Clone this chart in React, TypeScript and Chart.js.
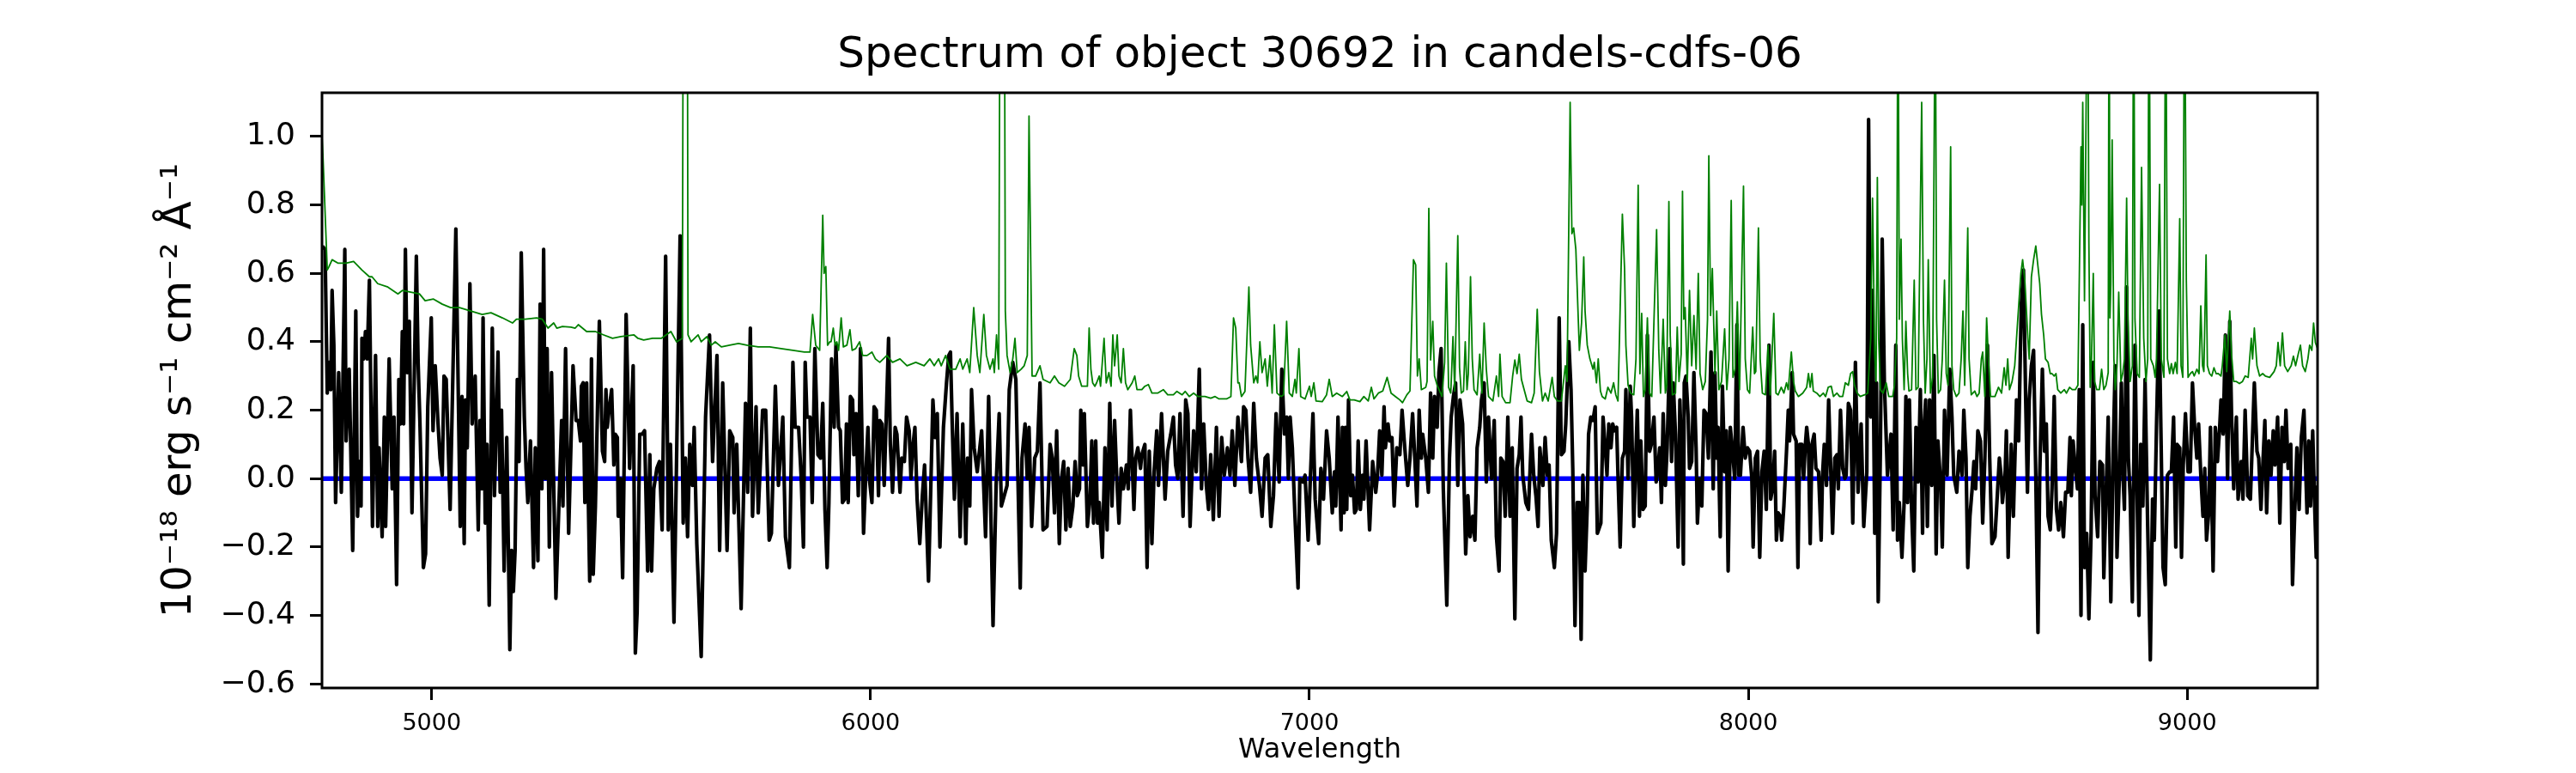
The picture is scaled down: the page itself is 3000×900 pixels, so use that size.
import React, { useEffect, useRef } from "react";
import { Chart, registerables } from "chart.js";

Chart.register(...registerables);

// ---- text ----
const titleText = "Spectrum of object 30692 in candels-cdfs-06";
const xLabel = "Wavelength";
const yLabel = "10\u207B\u00B9\u2078 erg s\u207B\u00B9 cm\u207B\u00B2 \u00C5\u207B\u00B9";

// ---- axes ----
const xRange = [4750, 9297];
const yRange = [-0.612, 1.128];
const xTicks = [5000, 6000, 7000, 8000, 9000];
const yTicks = [-0.6, -0.4, -0.2, 0.0, 0.2, 0.4, 0.6, 0.8, 1.0];

// ---- black: flux [wavelength, flux] ----
const fluxSeries: [number, number][] = [
  [4751, 0.68], [4757, 0.67], [4762, 0.25], [4766, 0.34], [4770, 0.26], [4773, 0.55], [4777, 0.39], [4781, -0.07],
  [4788, 0.31], [4794, -0.04], [4802, 0.67], [4805, 0.11], [4812, 0.32], [4820, -0.21], [4827, 0.49], [4831, -0.11],
  [4835, 0.05], [4839, -0.08], [4841, 0.41], [4845, 0.35], [4849, 0.43], [4853, 0.35], [4858, 0.58], [4865, -0.14],
  [4872, 0.36], [4877, -0.14], [4880, 0.09], [4887, -0.17], [4892, 0.18], [4895, -0.14], [4903, 0.35], [4910, -0.03],
  [4914, 0.18], [4920, -0.31], [4925, 0.29], [4929, 0.16], [4933, 0.43], [4936, 0.16], [4940, 0.67], [4944, 0.31],
  [4949, 0.46], [4955, -0.10], [4965, 0.65], [4969, 0.34], [4973, 0.17], [4981, -0.26], [4986, -0.22], [4991, 0.21],
  [4999, 0.47], [5003, 0.14], [5008, 0.33], [5014, 0.17], [5019, 0.06], [5024, 0.01], [5028, 0.30], [5033, 0.29],
  [5042, -0.09], [5055, 0.73], [5065, -0.14], [5069, 0.24], [5074, -0.19], [5077, 0.23], [5081, 0.09], [5087, 0.57],
  [5092, 0.16], [5099, 0.30], [5106, -0.15], [5110, 0.17], [5114, -0.03], [5117, 0.47], [5122, -0.13], [5126, 0.10],
  [5131, -0.37], [5138, 0.44], [5143, -0.05], [5151, 0.37], [5156, -0.04], [5159, 0.20], [5165, -0.27], [5171, 0.12],
  [5178, -0.50], [5182, -0.21], [5186, -0.33], [5190, -0.21], [5195, 0.29], [5199, 0.05], [5204, 0.66], [5211, 0.18],
  [5215, 0.03], [5219, -0.07], [5225, 0.11], [5232, -0.26], [5236, 0.09], [5242, -0.24], [5247, 0.51], [5251, -0.03],
  [5255, 0.67], [5259, 0.00], [5263, 0.38], [5268, -0.20], [5273, 0.31], [5283, -0.35], [5296, 0.17], [5299, -0.08],
  [5305, 0.38], [5312, -0.16], [5322, 0.33], [5329, 0.17],
  [5334, 0.17], [5339, 0.11], [5341, 0.27], [5345, 0.28], [5349, -0.07], [5353, 0.28], [5356, 0.00], [5360, -0.30],
  [5364, 0.35], [5368, -0.28], [5373, -0.08], [5382, 0.46], [5389, 0.08], [5394, 0.05], [5397, 0.26], [5400, 0.15],
  [5405, 0.21], [5410, 0.26], [5415, 0.04], [5418, 0.13], [5423, 0.12], [5425, -0.11], [5430, 0.00], [5435, -0.29],
  [5443, 0.48], [5451, 0.03], [5459, 0.33], [5464, -0.51], [5468, -0.39], [5474, 0.13], [5480, 0.13], [5485, 0.14],
  [5492, -0.27], [5497, 0.07], [5501, -0.27], [5506, -0.03], [5513, 0.03], [5519, 0.05], [5525, -0.15], [5533, 0.65],
  [5539, -0.15], [5544, 0.10], [5552, -0.42], [5566, 0.71], [5573, -0.13], [5578, 0.06], [5583, -0.17], [5588, 0.10],
  [5594, -0.02], [5598, 0.15], [5604, -0.19], [5614, -0.52], [5624, 0.18], [5633, 0.42], [5640, 0.05], [5650, 0.36],
  [5656, -0.21], [5663, 0.28], [5673, -0.21], [5679, 0.14], [5686, 0.12], [5689, -0.10], [5695, 0.10], [5705, -0.38],
  [5715, 0.22], [5720, -0.04], [5726, 0.44], [5731, -0.11], [5739, 0.21], [5744, -0.10], [5754, 0.20], [5761, 0.20],
  [5769, -0.18], [5774, -0.16], [5783, 0.27], [5790, -0.02], [5800, 0.18], [5806, -0.17], [5815, -0.26], [5823, 0.34],
  [5828, 0.15], [5836, 0.15], [5842, 0.00], [5847, -0.20], [5851, 0.34], [5855, 0.18], [5862, 0.18], [5867, -0.07],
  [5873, 0.38], [5880, 0.07], [5886, 0.06], [5891, 0.22], [5896, -0.09], [5901, -0.26], [5905, -0.07], [5911, 0.35],
  [5917, 0.15], [5921, 0.39], [5927, 0.15], [5931, 0.14], [5936, -0.07], [5941, -0.06], [5945, 0.16], [5949, -0.07],
  [5954, 0.24], [5959, 0.23], [5962, 0.07], [5967, 0.19], [5972, -0.05], [5977, 0.38], [5984, -0.16], [5989, 0.01],
  [5994, 0.15], [5998, -0.01], [6003, -0.07], [6008, 0.21], [6013, 0.20], [6018, -0.05], [6021, 0.17], [6026, 0.16],
  [6031, -0.02], [6041, 0.41], [6045, 0.10], [6050, -0.04], [6056, 0.15], [6060, 0.13], [6067, -0.04], [6071, 0.06],
  [6077, 0.05], [6082, 0.18], [6088, 0.14], [6092, 0.00], [6096, 0.09], [6101, 0.15], [6106, -0.06], [6112, -0.19],
  [6118, -0.05], [6123, 0.04], [6132, -0.30], [6142, 0.23], [6147, 0.12], [6152, 0.19], [6158, -0.20], [6166, 0.15],
  [6173, 0.28], [6178, 0.36], [6182, 0.37], [6186, 0.16], [6191, -0.06], [6197, 0.19], [6204, -0.17], [6210, 0.16],
  [6217, -0.19], [6221, 0.06], [6226, -0.08], [6230, 0.26], [6236, 0.09], [6243, 0.02], [6253, 0.14], [6262, -0.17],
  [6269, 0.24], [6279, -0.43], [6286, -0.02], [6293, 0.19], [6298, -0.08], [6311, -0.02], [6316, 0.26], [6324, 0.34],
  [6331, 0.29], [6341, -0.32], [6345, 0.06], [6352, 0.16], [6357, 0.00], [6361, 0.15], [6367, -0.14], [6374, 0.06],
  [6380, 0.08], [6386, 0.28], [6393, -0.15], [6402, -0.14], [6409, 0.10], [6414, 0.06], [6419, -0.10], [6424, 0.14],
  [6430, -0.19], [6435, 0.00], [6440, 0.05], [6445, -0.15], [6450, 0.03], [6455, -0.14], [6461, -0.08], [6466, 0.05],
  [6471, -0.05], [6476, -0.03], [6479, 0.20], [6484, 0.04], [6487, 0.19], [6494, -0.14],
  [6500, -0.06], [6504, 0.11], [6508, -0.13], [6513, 0.11], [6517, -0.13], [6521, -0.07], [6528, -0.23], [6534, 0.09],
  [6539, -0.15], [6545, 0.22], [6550, -0.08], [6556, 0.17], [6561, 0.00], [6566, -0.13], [6571, 0.03], [6576, -0.03],
  [6583, 0.04], [6587, -0.03], [6592, 0.20], [6600, -0.09], [6604, 0.06], [6609, 0.09], [6615, 0.03], [6618, 0.07],
  [6625, 0.10], [6630, -0.26], [6635, 0.08], [6641, -0.19], [6646, 0.02], [6652, 0.14], [6656, -0.02], [6663, 0.19],
  [6671, -0.06], [6677, 0.08], [6684, 0.13], [6690, 0.18], [6695, 0.04], [6700, 0.00], [6705, 0.19], [6712, -0.11],
  [6718, 0.23], [6723, 0.19], [6728, -0.14], [6736, 0.14], [6742, 0.02], [6749, 0.32], [6754, -0.03], [6759, 0.16],
  [6765, -0.02], [6770, -0.09], [6775, 0.07], [6781, -0.12], [6788, 0.15], [6794, -0.11], [6800, 0.12], [6806, 0.01],
  [6813, 0.09], [6819, 0.01], [6824, 0.14], [6830, -0.02], [6837, 0.18], [6845, 0.05], [6850, 0.21], [6855, 0.20],
  [6860, 0.06], [6866, -0.04], [6873, 0.22], [6879, 0.06], [6886, -0.02], [6892, -0.11], [6899, 0.06], [6905, 0.07],
  [6912, -0.14], [6918, -0.05], [6924, 0.19], [6931, -0.01], [6937, 0.32], [6943, 0.13], [6948, 0.18], [6952, 0.00],
  [6956, 0.18], [6961, 0.09], [6967, -0.11], [6974, -0.32], [6978, 0.00], [6985, -0.01], [6990, 0.01], [6997, -0.18],
  [7002, 0.00], [7008, 0.19], [7013, -0.06], [7021, -0.19], [7026, 0.03], [7032, -0.06], [7039, 0.14], [7045, 0.06],
  [7052, -0.10], [7057, 0.02], [7060, -0.08], [7065, 0.18], [7072, -0.15], [7075, 0.15],
  [7079, -0.10], [7082, 0.15], [7085, -0.09], [7089, 0.23], [7094, -0.05], [7098, 0.01], [7103, -0.10], [7107, -0.09],
  [7111, 0.11], [7116, -0.09], [7121, 0.01], [7124, -0.06], [7129, 0.11], [7137, -0.15], [7144, 0.05], [7151, -0.04],
  [7155, 0.01], [7160, 0.14], [7165, 0.01], [7170, 0.21], [7173, 0.09], [7179, 0.16], [7183, 0.11], [7188, 0.12],
  [7193, -0.08], [7199, 0.09], [7206, 0.07], [7211, 0.20], [7216, 0.11], [7224, -0.02], [7229, 0.06], [7235, 0.19],
  [7240, 0.06], [7245, -0.08], [7250, 0.20], [7255, 0.06], [7258, 0.13], [7265, 0.06], [7271, -0.04], [7276, 0.25],
  [7281, 0.06], [7285, 0.24], [7291, 0.15], [7295, 0.31], [7300, 0.38], [7305, -0.03], [7313, -0.37], [7319, 0.06],
  [7323, 0.18], [7328, 0.24], [7333, 0.28], [7338, -0.02], [7343, 0.23], [7349, 0.16], [7356, -0.22], [7361, -0.05],
  [7366, -0.17], [7372, -0.11], [7377, -0.18], [7382, 0.09], [7388, 0.15], [7392, 0.23], [7398, 0.28], [7403, -0.01],
  [7408, 0.18], [7415, 0.00], [7421, 0.17], [7426, -0.17], [7432, -0.27], [7436, 0.06], [7441, 0.05], [7446, -0.11],
  [7452, 0.18], [7457, -0.11], [7462, 0.09], [7468, -0.41], [7473, 0.03], [7478, 0.07], [7482, 0.18], [7486, 0.01],
  [7493, -0.07], [7499, -0.09], [7506, 0.13], [7511, 0.01], [7516, -0.05], [7521, -0.14], [7525, 0.09], [7532, -0.02],
  [7537, 0.12], [7542, 0.01], [7546, 0.04], [7551, -0.18], [7558, -0.26], [7563, -0.16], [7569, 0.47], [7574, 0.07],
  [7580, 0.08], [7584, 0.16], [7591, 0.40], [7596, 0.26], [7600, 0.03], [7605, -0.43], [7610, -0.07], [7615, -0.07],
  [7619, -0.47], [7623, 0.01], [7628, -0.27], [7633, -0.08], [7636, 0.13], [7641, 0.18], [7646, 0.17], [7651, 0.21],
  [7656, -0.16],
  [7664, -0.13], [7669, 0.18], [7674, 0.09], [7678, 0.01], [7682, 0.16], [7687, 0.09], [7691, 0.16], [7695, 0.14],
  [7700, 0.15], [7703, 0.01], [7708, -0.20], [7713, 0.06], [7718, 0.08], [7721, 0.26], [7726, 0.00], [7731, 0.27],
  [7734, 0.18], [7739, -0.14], [7744, 0.08], [7747, 0.20], [7752, -0.11], [7755, 0.11], [7760, -0.09], [7765, -0.08],
  [7770, 0.42], [7775, 0.08], [7779, 0.10], [7785, 0.18], [7790, -0.01], [7794, 0.03], [7798, 0.09], [7802, -0.07],
  [7806, 0.19], [7811, -0.02], [7815, 0.09], [7821, 0.38], [7825, 0.05], [7829, 0.28], [7834, 0.13], [7840, -0.20],
  [7844, 0.23], [7849, 0.01], [7852, -0.25], [7854, 0.28], [7858, 0.30], [7863, 0.18], [7866, 0.03], [7871, 0.05],
  [7876, 0.31], [7881, 0.09], [7884, -0.13], [7889, 0.00], [7894, -0.08], [7899, 0.20], [7904, 0.19], [7909, 0.06],
  [7915, 0.37], [7920, -0.03], [7924, 0.31], [7928, 0.06], [7931, 0.15], [7936, -0.17], [7941, 0.27], [7946, 0.02],
  [7950, 0.14], [7954, -0.27], [7959, 0.15], [7964, 0.08], [7969, 0.00], [7974, 0.45], [7978, 0.01], [7982, 0.01],
  [7988, 0.15], [7993, 0.06], [7998, 0.09], [8003, 0.08], [8008, 0.00], [8011, -0.20], [8016, 0.06], [8021, 0.08],
  [8026, -0.23], [8031, 0.02], [8036, 0.08], [8041, -0.09], [8047, 0.39], [8051, -0.06], [8055, -0.03], [8060, 0.08],
  [8064, -0.18], [8068, -0.10], [8073, -0.11], [8076, -0.18], [8081, -0.08], [8087, 0.08], [8091, 0.20], [8094, 0.11],
  [8100, 0.31], [8103, 0.13], [8109, 0.11], [8113, -0.26], [8117, 0.10], [8122, 0.10], [8126, 0.00], [8130, 0.10],
  [8133, 0.15], [8137, 0.10], [8141, -0.19], [8145, 0.10], [8150, 0.13], [8154, 0.03], [8160, 0.02], [8166, -0.18],
  [8169, 0.01], [8173, 0.10], [8178, -0.02], [8183, 0.23], [8187, 0.06], [8192, -0.16], [8197, 0.06], [8202, 0.07],
  [8205, -0.03], [8210, 0.20], [8215, 0.03], [8220, 0.00], [8223, 0.01], [8228, 0.22], [8233, 0.20], [8238, -0.13],
  [8244, 0.34], [8250, -0.04], [8257, 0.16], [8263, -0.14], [8270, 0.02], [8274, 1.05], [8279, 0.18], [8283, 0.55],
  [8288, -0.16], [8292, 0.28], [8296, -0.36], [8301, 0.09], [8305, 0.70], [8310, 0.28], [8317, 0.01], [8325, 0.13],
  [8330, -0.15], [8336, 0.39], [8340, -0.18], [8344, -0.07], [8350, -0.23], [8355, -0.07], [8359, 0.24], [8363, -0.07],
  [8367, 0.23], [8372, -0.09], [8377, -0.27], [8382, 0.15], [8387, -0.01], [8392, 0.26], [8397, -0.16], [8400, 0.14],
  [8404, 0.23], [8408, -0.14], [8413, 0.23], [8418, -0.02], [8423, 0.36], [8428, -0.22], [8432, 0.11], [8438, -0.01],
  [8442, -0.20], [8447, 0.20], [8453, 0.01], [8459, 0.32], [8464, 0.18], [8468, 0.01], [8475, -0.04], [8480, 0.08],
  [8487, 0.01], [8491, 0.20], [8496, 0.06], [8500, -0.26], [8505, -0.11], [8510, -0.03], [8514, 0.05], [8518, -0.03],
  [8523, 0.14], [8529, 0.11], [8534, -0.13], [8539, 0.06], [8545, 0.39], [8550, 0.06], [8555, -0.19], [8562, -0.17],
  [8566, -0.08], [8572, 0.06], [8576, 0.01], [8579, -0.07], [8585, 0.01], [8588, 0.14], [8592, -0.23], [8599, 0.10],
  [8604, -0.11], [8611, 0.23], [8616, 0.11], [8622, 0.51], [8627, 0.61], [8632, 0.23], [8636, -0.04], [8640, 0.23],
  [8645, 0.33], [8650, 0.375], [8655, 0.01], [8660, -0.45], [8664, 0.01], [8670, 0.32], [8675, 0.08], [8679, 0.16],
  [8683, -0.11], [8688, -0.15], [8692, -0.03], [8697, 0.24], [8702, -0.09], [8707, -0.15], [8712, -0.07], [8718, -0.17],
  [8723, -0.04], [8728, -0.04], [8733, 0.12], [8736, -0.05], [8740, 0.11], [8745, 0.03], [8750, -0.03], [8754, 0.26],
  [8758, -0.40], [8762, 0.45], [8766, -0.26], [8771, -0.16], [8776, -0.41], [8781, -0.16], [8786, 0.34], [8790, -0.05],
  [8796, -0.17], [8801, 0.05], [8807, 0.04], [8810, -0.29], [8815, -0.06], [8820, 0.18],
  [8826, -0.36], [8831, 0.07], [8836, 0.33], [8840, -0.23], [8846, 0.03], [8850, 0.28], [8854, 0.00], [8857, -0.09],
  [8862, 0.56], [8866, 0.06], [8870, -0.05], [8875, -0.36], [8881, 0.39], [8886, -0.05], [8890, -0.40], [8894, 0.10],
  [8899, -0.08], [8904, 0.29], [8910, -0.14], [8916, -0.53], [8921, -0.06], [8925, -0.18], [8930, 0.15], [8936, 0.49],
  [8940, 0.15], [8945, -0.26], [8950, -0.31], [8955, 0.01], [8960, 0.02], [8964, 0.02], [8969, 0.18], [8974, -0.20],
  [8977, 0.10], [8983, 0.09], [8987, -0.23], [8991, 0.04], [8996, 0.19], [9002, 0.02], [9007, 0.02], [9012, 0.28],
  [9017, 0.15], [9022, 0.06], [9026, 0.16], [9031, 0.01], [9036, -0.11], [9040, 0.03], [9044, -0.18], [9049, -0.10],
  [9053, 0.15], [9059, -0.27], [9064, 0.15], [9069, 0.05], [9074, 0.15], [9077, 0.23], [9082, 0.13], [9087, 0.42],
  [9092, 0.00], [9097, 0.46], [9101, 0.19], [9106, -0.03], [9112, 0.18], [9116, -0.06], [9123, 0.05], [9127, -0.06],
  [9132, 0.20], [9138, -0.05], [9144, -0.06], [9149, 0.13], [9153, 0.28], [9159, 0.08], [9163, 0.06], [9168, -0.09],
  [9173, 0.06], [9177, 0.17], [9181, -0.10], [9186, 0.11], [9191, 0.01], [9196, 0.14], [9200, 0.04], [9206, 0.18],
  [9211, -0.13], [9216, 0.15], [9221, 0.05], [9225, 0.20], [9230, 0.03], [9236, 0.10], [9240, -0.31], [9245, -0.10],
  [9250, 0.09], [9255, -0.09], [9260, 0.12], [9266, 0.20], [9273, -0.10], [9277, 0.11], [9281, -0.08], [9286, 0.14],
  [9290, -0.06], [9294, -0.23], [9297, -0.02],
];

// ---- green: noise / sky [wavelength, value] ----
const skySeries: [number, number][] = [
  [4750, 1.00], [4752, 0.95], [4762, 0.61], [4766, 0.62], [4773, 0.64], [4786, 0.63], [4805, 0.63], [4822, 0.635],
  [4841, 0.61], [4858, 0.59], [4864, 0.59], [4877, 0.57], [4900, 0.56], [4923, 0.54], [4933, 0.55], [4952, 0.545],
  [4972, 0.54], [4985, 0.52], [5004, 0.525], [5024, 0.51], [5043, 0.50], [5063, 0.50], [5089, 0.49], [5115, 0.48],
  [5135, 0.485], [5161, 0.47], [5184, 0.455], [5193, 0.466], [5213, 0.466], [5239, 0.47], [5252, 0.466], [5265, 0.44],
  [5278, 0.455], [5285, 0.44], [5298, 0.445], [5317, 0.443],
  [5327, 0.44], [5334, 0.45], [5353, 0.43], [5373, 0.43], [5392, 0.42], [5412, 0.41], [5431, 0.415], [5461, 0.42],
  [5470, 0.41], [5483, 0.405], [5503, 0.41], [5523, 0.41], [5545, 0.43], [5558, 0.40], [5571, 0.41], [5575, 2.5],
  [5581, 2.5], [5584, 0.42], [5591, 0.40], [5607, 0.42], [5614, 0.40], [5627, 0.415], [5637, 0.39], [5646, 0.40],
  [5660, 0.385], [5679, 0.39], [5699, 0.395], [5718, 0.39], [5744, 0.385], [5770, 0.385], [5796, 0.38], [5823, 0.375],
  [5849, 0.37], [5862, 0.37], [5868, 0.48], [5875, 0.39], [5884, 0.375], [5891, 0.77], [5894, 0.60], [5898, 0.62],
  [5902, 0.39], [5907, 0.40],
  [5910, 0.40], [5915, 0.44], [5919, 0.39], [5923, 0.40], [5927, 0.375], [5933, 0.47], [5938, 0.385], [5946, 0.39],
  [5953, 0.435], [5958, 0.375], [5966, 0.38], [5975, 0.40], [5982, 0.36], [5992, 0.36], [6003, 0.37], [6011, 0.35],
  [6021, 0.34], [6037, 0.36], [6050, 0.34], [6067, 0.35], [6083, 0.33], [6103, 0.34], [6122, 0.33], [6135, 0.35],
  [6145, 0.33], [6155, 0.35], [6161, 0.33], [6171, 0.36], [6181, 0.32], [6194, 0.32], [6204, 0.35], [6210, 0.32],
  [6220, 0.35], [6226, 0.31], [6235, 0.50], [6243, 0.36], [6249, 0.31], [6258, 0.48], [6264, 0.36], [6272, 0.32],
  [6279, 0.35], [6282, 0.31], [6287, 0.42], [6292, 0.32], [6297, 2.5], [6303, 2.5], [6307, 0.49], [6311, 0.36],
  [6318, 0.31], [6324, 0.35], [6329, 0.41], [6334, 0.31], [6343, 0.32], [6350, 0.33], [6357, 0.36], [6361, 1.06],
  [6368, 0.30], [6376, 0.30], [6386, 0.33], [6393, 0.29], [6409, 0.28], [6419, 0.30], [6429, 0.28], [6442, 0.27],
  [6455, 0.29], [6464, 0.38], [6470, 0.36], [6474, 0.30], [6481, 0.27], [6494, 0.27],
  [6498, 0.44], [6502, 0.32], [6506, 0.28], [6511, 0.27], [6515, 0.28], [6521, 0.30], [6524, 0.27], [6532, 0.41],
  [6537, 0.28], [6543, 0.31], [6548, 0.27], [6552, 0.42], [6556, 0.33], [6562, 0.42], [6566, 0.30], [6571, 0.28],
  [6576, 0.38], [6581, 0.28], [6586, 0.26], [6596, 0.28], [6602, 0.30], [6607, 0.26], [6618, 0.26], [6625, 0.27],
  [6633, 0.275], [6641, 0.25], [6654, 0.25], [6667, 0.26], [6677, 0.245], [6690, 0.245], [6698, 0.255], [6710, 0.245],
  [6717, 0.255], [6726, 0.24], [6736, 0.25], [6746, 0.24], [6762, 0.24], [6775, 0.235], [6785, 0.24], [6794, 0.233],
  [6811, 0.233], [6821, 0.24], [6827, 0.47], [6832, 0.44], [6837, 0.28], [6840, 0.28], [6845, 0.24], [6853, 0.255],
  [6862, 0.56], [6866, 0.39], [6873, 0.28], [6878, 0.30], [6882, 0.28], [6887, 0.40], [6892, 0.31], [6899, 0.35],
  [6904, 0.27], [6910, 0.36], [6915, 0.25], [6920, 0.45], [6926, 0.25], [6935, 0.24], [6941, 0.245], [6948, 0.46],
  [6954, 0.25], [6961, 0.24], [6967, 0.29], [6970, 0.25], [6976, 0.38], [6980, 0.24], [6990, 0.233], [7000, 0.27],
  [7004, 0.24], [7010, 0.28], [7015, 0.227], [7029, 0.225], [7039, 0.245], [7045, 0.29], [7052, 0.24], [7062, 0.25],
  [7075, 0.24],
  [7082, 0.25], [7085, 0.255], [7092, 0.23], [7102, 0.23], [7115, 0.225], [7124, 0.24], [7134, 0.227], [7141, 0.267],
  [7147, 0.233], [7157, 0.25], [7167, 0.256], [7177, 0.296], [7186, 0.25], [7196, 0.24], [7206, 0.23], [7212, 0.222],
  [7222, 0.245], [7229, 0.256], [7237, 0.64], [7242, 0.625], [7246, 0.30], [7250, 0.35], [7255, 0.26], [7265, 0.267],
  [7268, 0.284], [7272, 0.79], [7276, 0.347], [7281, 0.46], [7285, 0.30], [7291, 0.273], [7302, 0.24], [7308, 0.34],
  [7312, 0.63], [7317, 0.267], [7322, 0.25], [7327, 0.415], [7331, 0.256], [7338, 0.71], [7342, 0.324], [7346, 0.25],
  [7351, 0.256], [7355, 0.40], [7359, 0.26], [7362, 0.307], [7367, 0.59], [7371, 0.35], [7375, 0.26], [7382, 0.245],
  [7388, 0.364], [7393, 0.25], [7398, 0.455], [7403, 0.32], [7408, 0.24], [7418, 0.227], [7426, 0.30], [7431, 0.24],
  [7434, 0.364], [7439, 0.24], [7447, 0.222], [7457, 0.222], [7463, 0.30], [7468, 0.347], [7473, 0.307], [7478, 0.364],
  [7483, 0.29], [7490, 0.256], [7496, 0.227], [7506, 0.222], [7512, 0.25], [7519, 0.495], [7524, 0.313], [7531, 0.227],
  [7537, 0.25], [7544, 0.227], [7553, 0.296], [7558, 0.24], [7565, 0.227], [7574, 0.227], [7583, 0.33], [7587, 0.284],
  [7594, 1.10], [7598, 0.716], [7602, 0.733], [7607, 0.67], [7615, 0.375], [7620, 0.455], [7625, 0.648], [7628, 0.49],
  [7633, 0.39], [7639, 0.35], [7646, 0.32], [7649, 0.34],
  [7654, 0.28], [7658, 0.35], [7663, 0.256], [7667, 0.24], [7674, 0.233], [7680, 0.267], [7687, 0.25], [7693, 0.28],
  [7698, 0.245], [7703, 0.227], [7713, 0.773], [7718, 0.614], [7721, 0.39], [7726, 0.273], [7732, 0.25], [7739, 0.245],
  [7744, 0.35], [7749, 0.858], [7753, 0.307], [7757, 0.483], [7761, 0.24], [7765, 0.26], [7770, 0.47], [7775, 0.25],
  [7780, 0.24], [7791, 0.728], [7796, 0.375], [7800, 0.25], [7806, 0.466], [7811, 0.25], [7814, 0.273], [7819, 0.81],
  [7822, 0.42], [7827, 0.245], [7834, 0.25], [7838, 0.443], [7842, 0.284], [7847, 0.364], [7850, 0.84], [7853, 0.466],
  [7856, 0.50], [7861, 0.284], [7866, 0.55], [7871, 0.33], [7876, 0.477], [7881, 0.32], [7886, 0.60], [7890, 0.307],
  [7896, 0.26], [7902, 0.284], [7907, 0.466], [7910, 0.944], [7914, 0.477], [7918, 0.614], [7924, 0.307], [7928, 0.49],
  [7933, 0.26], [7939, 0.284], [7946, 0.438], [7951, 0.26], [7956, 0.35], [7961, 0.813], [7965, 0.296], [7970, 0.32],
  [7975, 0.517], [7980, 0.26], [7989, 0.855], [7993, 0.35], [7998, 0.26], [8003, 0.25], [8010, 0.443], [8014, 0.307],
  [8017, 0.313], [8023, 0.733], [8027, 0.35], [8032, 0.25], [8039, 0.245], [8045, 0.39], [8050, 0.245], [8058, 0.483],
  [8063, 0.25], [8068, 0.245], [8075, 0.267], [8081, 0.25], [8087, 0.28], [8091, 0.26], [8098, 0.37], [8103, 0.284],
  [8107, 0.256], [8114, 0.24], [8124, 0.25], [8133, 0.267], [8137, 0.307], [8141, 0.267], [8145, 0.307], [8148, 0.256],
  [8156, 0.25], [8163, 0.24], [8171, 0.25], [8176, 0.24], [8182, 0.267], [8189, 0.27], [8194, 0.24], [8202, 0.25],
  [8208, 0.24], [8215, 0.24], [8221, 0.28], [8228, 0.273], [8233, 0.307], [8238, 0.313],
  [8242, 0.273], [8248, 0.25], [8255, 0.24], [8265, 0.245], [8272, 0.25], [8279, 0.41], [8283, 0.82], [8288, 0.364],
  [8291, 0.284], [8294, 0.88], [8297, 0.41], [8301, 0.26], [8307, 0.25], [8314, 0.28], [8320, 0.24], [8329, 0.24],
  [8333, 0.273], [8338, 0.41], [8341, 1.6], [8344, 0.466], [8348, 0.70], [8351, 0.41], [8355, 0.26], [8359, 0.46],
  [8363, 0.307], [8366, 0.256], [8372, 0.26], [8378, 0.58], [8382, 0.26], [8387, 0.267], [8395, 1.10], [8399, 0.466],
  [8403, 0.25], [8407, 0.35], [8410, 0.64], [8415, 0.25], [8420, 0.296], [8426, 1.5], [8429, 0.466], [8433, 0.25],
  [8438, 0.26], [8442, 0.35], [8447, 0.58], [8451, 0.307], [8455, 0.273], [8461, 0.97], [8464, 0.33], [8468, 0.26],
  [8474, 0.24], [8480, 0.25], [8485, 0.35], [8489, 0.49], [8493, 0.273], [8500, 0.733], [8503, 0.35], [8508, 0.245],
  [8516, 0.256], [8521, 0.24], [8526, 0.25], [8531, 0.35], [8534, 0.37], [8539, 0.24], [8543, 0.47], [8547, 0.35],
  [8552, 0.24], [8562, 0.24], [8570, 0.267], [8577, 0.25], [8583, 0.324], [8587, 0.273], [8591, 0.35], [8595, 0.26],
  [8601, 0.284], [8607, 0.33], [8614, 0.466], [8621, 0.60], [8625, 0.64], [8630, 0.58], [8637, 0.41], [8640, 0.35],
  [8645, 0.59], [8650, 0.64], [8655, 0.68], [8660, 0.62], [8664, 0.57], [8668, 0.48], [8673, 0.42], [8677, 0.35],
  [8683, 0.34], [8688, 0.307], [8692, 0.307], [8697, 0.30], [8701, 0.307], [8705, 0.26], [8712, 0.25], [8720, 0.26],
  [8725, 0.25], [8732, 0.267], [8738, 0.26], [8745, 0.26], [8751, 0.273], [8758, 0.97], [8760, 0.80], [8762, 1.10],
  [8766, 0.52], [8769, 0.98], [8773, 1.6], [8776, 0.69], [8779, 0.267], [8782, 0.35], [8786, 0.60], [8789, 0.284],
  [8794, 0.26], [8800, 0.26], [8805, 0.32], [8810, 0.26], [8815, 0.273], [8820, 0.31],
  [8822, 1.6], [8824, 0.47], [8826, 0.57], [8829, 0.99], [8833, 0.35], [8836, 0.26], [8840, 0.33], [8844, 0.545],
  [8849, 0.284], [8853, 0.307], [8857, 0.35], [8862, 0.82], [8865, 0.466], [8870, 0.284], [8875, 0.33], [8878, 1.6],
  [8881, 0.466], [8886, 0.307], [8891, 0.296], [8896, 0.91], [8901, 0.41], [8906, 0.284], [8910, 0.35], [8913, 1.6],
  [8917, 0.35], [8923, 0.33], [8927, 0.296], [8930, 0.35], [8937, 0.86], [8941, 0.35], [8947, 0.296], [8951, 1.6],
  [8955, 0.35], [8960, 0.307], [8964, 0.336], [8968, 0.307], [8973, 0.34], [8977, 0.307], [8983, 0.76], [8986, 0.33],
  [8990, 0.296], [8994, 1.6], [8998, 0.58], [9002, 0.296], [9007, 0.307], [9012, 0.313], [9016, 0.30], [9022, 0.32],
  [9027, 0.307], [9031, 0.505], [9035, 0.33], [9038, 0.313], [9043, 0.654], [9046, 0.33], [9051, 0.307], [9056, 0.30],
  [9061, 0.324], [9066, 0.307], [9071, 0.307], [9077, 0.30], [9080, 0.33], [9086, 0.42], [9090, 0.313], [9097, 0.49],
  [9101, 0.364], [9106, 0.284], [9112, 0.284], [9119, 0.278], [9126, 0.284], [9132, 0.30], [9139, 0.296], [9146, 0.41],
  [9149, 0.35], [9153, 0.44], [9159, 0.33], [9165, 0.30], [9172, 0.307], [9178, 0.30], [9188, 0.296], [9198, 0.313],
  [9203, 0.33], [9207, 0.398], [9212, 0.33], [9217, 0.426], [9222, 0.33], [9229, 0.313], [9237, 0.33], [9242, 0.358],
  [9247, 0.33], [9253, 0.364], [9258, 0.39], [9263, 0.33], [9269, 0.313], [9275, 0.35], [9279, 0.39], [9284, 0.375],
  [9288, 0.455], [9292, 0.398], [9297, 0.38],
];

// ---- blue: zero level ----
const zeroLevel = 0;

const FONT = "'DejaVu Sans', 'Liberation Sans', sans-serif";

const framePlugin = {
  id: "axesFrame",
  afterDatasetsDraw(chart: any) {
    const { ctx, chartArea } = chart;
    ctx.save();
    ctx.strokeStyle = "#000000";
    ctx.lineWidth = 3;
    ctx.strokeRect(chartArea.left, chartArea.top, chartArea.right - chartArea.left, chartArea.bottom - chartArea.top);
    ctx.restore();
  },
};

export default function App() {
  const canvasRef = useRef<HTMLCanvasElement | null>(null);

  useEffect(() => {
    const canvas = canvasRef.current;
    if (!canvas) return;
    const toXY = (pts: [number, number][]) => pts.map(([x, y]) => ({ x, y }));
    const lineCommon = {
      pointRadius: 0,
      pointHoverRadius: 0,
      tension: 0,
      clip: 0,
      borderJoinStyle: "round" as const,
      borderCapStyle: "butt" as const,
      fill: false,
    };
    const chart = new Chart(canvas, {
      type: "line",
      data: {
        datasets: [
          {
            ...lineCommon,
            label: "noise",
            data: toXY(skySeries),
            borderColor: "#008000",
            borderWidth: 1.8,
            order: 0,
          },
          {
            ...lineCommon,
            label: "flux",
            data: toXY(fluxSeries),
            borderColor: "#000000",
            borderWidth: 4.2,
            order: 1,
          },
          {
            ...lineCommon,
            label: "zero",
            data: [
              { x: xRange[0], y: zeroLevel },
              { x: xRange[1], y: zeroLevel },
            ],
            borderColor: "#0000ff",
            borderWidth: 5.6,
            order: 2,
          },
        ],
      },
      options: {
        responsive: false,
        animation: false,
        devicePixelRatio: 1,
        events: [],
        layout: { padding: { left: 0, top: 0, right: 301, bottom: 0 } },
        plugins: {
          legend: { display: false },
          tooltip: { enabled: false },
          title: {
            display: true,
            text: titleText,
            fullSize: false,
            color: "#000000",
            font: { family: FONT, size: 50, weight: "normal", lineHeight: 1.2 },
            padding: { top: 35, bottom: 13 },
          },
        },
        scales: {
          x: {
            type: "linear",
            position: "bottom",
            min: xRange[0],
            max: xRange[1],
            afterBuildTicks: (scale: any) => {
              scale.ticks = xTicks.map((v) => ({ value: v }));
            },
            afterFit: (scale: any) => {
              scale.height = 99;
            },
            border: { display: false },
            grid: {
              display: true,
              drawOnChartArea: false,
              drawTicks: true,
              tickLength: 14,
              tickWidth: 3,
              tickColor: "#000000",
            },
            ticks: {
              color: "#000000",
              font: { family: FONT, size: 27, lineHeight: 1.2 },
              padding: 12,
              autoSkip: false,
              maxRotation: 0,
              minRotation: 0,
              callback: (v: any) => String(v),
            },
            title: {
              display: true,
              text: xLabel,
              color: "#000000",
              font: { family: FONT, size: 32, lineHeight: 1.2 },
              padding: { top: 0, bottom: 7 },
            },
          },
          y: {
            type: "linear",
            position: "left",
            min: yRange[0],
            max: yRange[1],
            afterBuildTicks: (scale: any) => {
              scale.ticks = yTicks.map((v) => ({ value: v }));
            },
            afterFit: (scale: any) => {
              scale.width = 375;
            },
            border: { display: false },
            grid: {
              display: true,
              drawOnChartArea: false,
              drawTicks: true,
              tickLength: 14,
              tickWidth: 3,
              tickColor: "#000000",
            },
            ticks: {
              color: "#000000",
              font: { family: FONT, size: 36, lineHeight: 1.2 },
              padding: 17,
              autoSkip: false,
              callback: (v: any) => Number(v).toFixed(1).replace("-", "\u2212"),
            },
            title: {
              display: true,
              text: yLabel,
              color: "#000000",
              font: { family: FONT, size: 48, lineHeight: 1.2 },
              padding: { top: 181, bottom: 0 },
            },
          },
        },
      },
      plugins: [framePlugin],
    } as any);
    return () => chart.destroy();
  }, []);

  return (
    <div style={{ position: "fixed", left: 0, top: 0, width: 3000, height: 900, background: "#ffffff" }}>
      <canvas ref={canvasRef} width={3000} height={900} style={{ width: 3000, height: 900, display: "block" }} />
    </div>
  );
}
